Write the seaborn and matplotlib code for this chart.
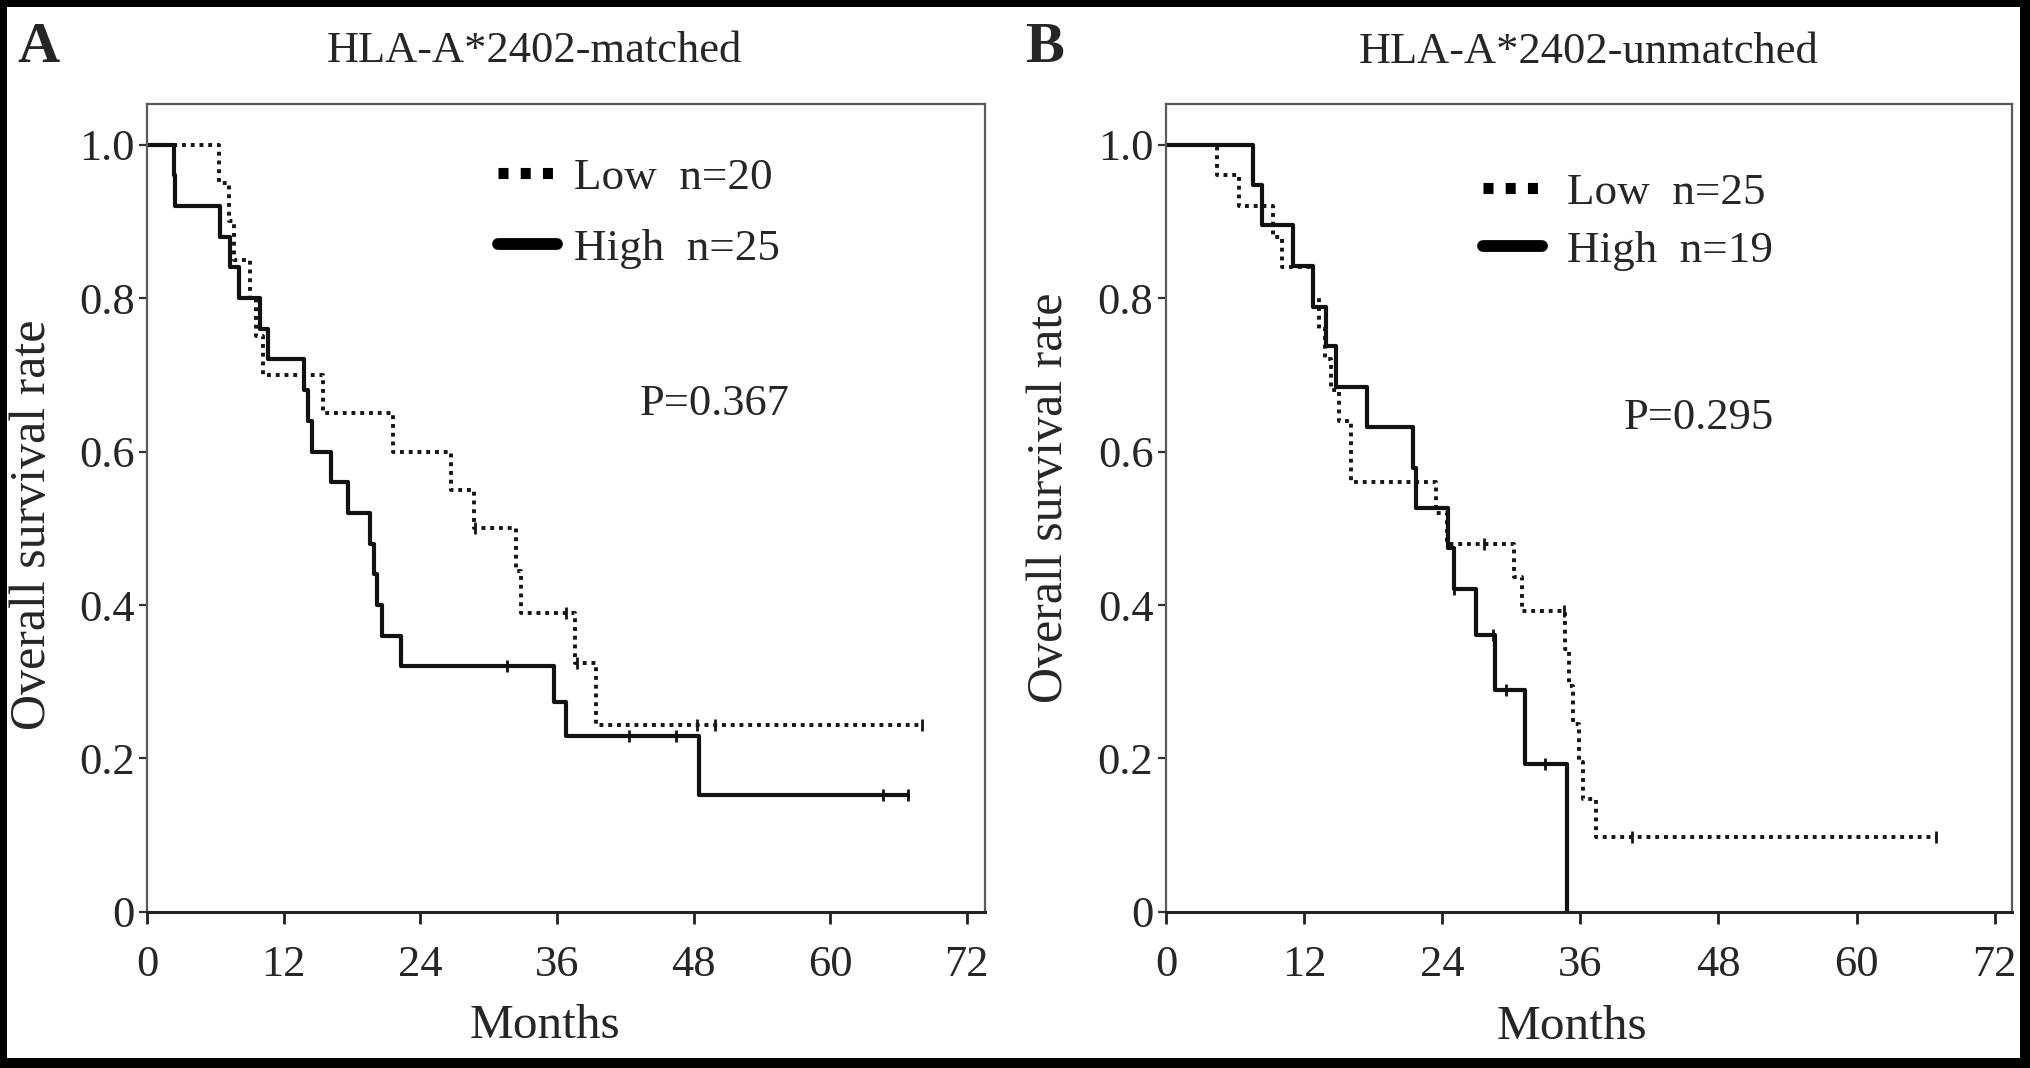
import matplotlib
matplotlib.use("Agg")
import matplotlib.pyplot as plt
from matplotlib.lines import Line2D
from matplotlib.patches import Rectangle
import seaborn as sns

sns.set_theme(style="white")
plt.rcParams["font.family"] = ["Liberation Serif", "DejaVu Serif"]

# ==================================================
# DATA
# ==================================================

# A: HLA-A*2402-matched
a_low_t = [0, 6.3, 7.2, 7.6, 9.0, 9.6, 10.2, 15.45, 21.6, 26.7, 28.7,
           32.4, 32.85, 37.55, 39.4, 68.1]
a_low_s = [1.0, 0.95, 0.90, 0.85, 0.80, 0.75, 0.70, 0.65, 0.60, 0.55, 0.50,
           0.444, 0.389, 0.324, 0.243, 0.243]
a_low_cens_t = [28.8, 36.8, 37.8, 48.3, 49.9, 68.1]
a_low_cens_s = [0.50, 0.389, 0.324, 0.243, 0.243, 0.243]

a_high_t = [0, 2.35, 2.45, 6.4, 7.25, 8.05, 9.9, 10.6, 13.75, 14.1, 14.5,
            16.2, 17.65, 19.55, 19.9, 20.2, 20.6, 22.3, 35.7, 36.8, 48.5, 66.8]
a_high_s = [1.0, 0.96, 0.92, 0.88, 0.84, 0.80, 0.76, 0.72, 0.68, 0.64, 0.60,
            0.56, 0.52, 0.48, 0.44, 0.40, 0.36, 0.32, 0.274, 0.229, 0.152, 0.152]
a_high_cens_t = [31.6, 42.3, 46.5, 64.65, 66.8]
a_high_cens_s = [0.32, 0.229, 0.229, 0.152, 0.152]

# B: HLA-A*2402-unmatched
b_low_t = [0, 4.4, 6.3, 9.3, 10.05, 12.8, 13.3, 13.8, 14.3, 15.0, 16.1,
           23.5, 24.4, 30.2, 30.9, 34.65, 35.0, 35.4, 35.85, 36.2, 37.35, 66.9]
b_low_s = [1.0, 0.96, 0.92, 0.88, 0.84, 0.80, 0.76, 0.72, 0.68, 0.64, 0.56,
           0.52, 0.48, 0.436, 0.392, 0.343, 0.294, 0.245, 0.196, 0.147, 0.098, 0.098]
b_low_cens_t = [27.65, 34.6, 40.45, 66.9]
b_low_cens_s = [0.48, 0.392, 0.098, 0.098]

b_high_t = [0, 7.55, 8.3, 11.05, 12.8, 13.9, 14.75, 17.5, 21.5, 21.7,
            24.5, 25.0, 26.9, 28.6, 31.15, 34.8]
b_high_s = [1.0, 0.947, 0.895, 0.842, 0.789, 0.737, 0.684, 0.632, 0.579, 0.526,
            0.474, 0.421, 0.361, 0.289, 0.193, 0.0]
b_high_cens_t = [25.0, 28.4, 29.5, 32.95]
b_high_cens_s = [0.421, 0.361, 0.289, 0.193]

x_ticks = [0, 12, 24, 36, 48, 60, 72]
y_ticks = [0, 0.2, 0.4, 0.6, 0.8, 1.0]
y_tick_labels = ["0", "0.2", "0.4", "0.6", "0.8", "1.0"]

panels = [
    {
        "letter": "A", "title": "HLA-A*2402-matched",
        "low": (a_low_t, a_low_s, a_low_cens_t, a_low_cens_s),
        "high": (a_high_t, a_high_s, a_high_cens_t, a_high_cens_s),
        "low_label": "Low  n=20", "high_label": "High  n=25",
        "p": "P=0.367",
    },
    {
        "letter": "B", "title": "HLA-A*2402-unmatched",
        "low": (b_low_t, b_low_s, b_low_cens_t, b_low_cens_s),
        "high": (b_high_t, b_high_s, b_high_cens_t, b_high_cens_s),
        "low_label": "Low  n=25", "high_label": "High  n=19",
        "p": "P=0.295",
    },
]

# layout per panel
axes_rects = [[0.0724, 0.1461, 0.4126, 0.7566], [0.5741, 0.1461, 0.4165, 0.7566]]
xlims = [73.6, 73.5]
p_pos = [(43.25, 0.6475), (39.8, 0.629)]
legend_anchor = [(0.419, 0.934), (0.375, 0.915)]
legend_style = [
    dict(handlelength=1.31, handletextpad=0.36, labelspacing=0.68),
    dict(handlelength=1.30, handletextpad=0.55, labelspacing=0.38),
]
title_pos = [(0.2629, 0.9424), (0.7824, 0.9410)]
letter_pos = [(0.0084, 0.9420), (0.5047, 0.9420)]
xlabel_pos = [(0.475, -0.141), (0.480, -0.142)]
ylabel_pos = [(-0.136, 0.479), (-0.137, 0.512)]

# ==================================================
# FIGURE
# ==================================================

fig = plt.figure(figsize=(20.31, 10.68), dpi=100)
fig.patch.set_facecolor("black")
fig.add_artist(Rectangle((0.00345, 0.0089), 0.9909, 0.9842,
                         transform=fig.transFigure, facecolor="white",
                         edgecolor="none", zorder=-5))

dot_style = (0, (1, 1.25))

for i, pnl in enumerate(panels):
    ax = fig.add_axes(axes_rects[i])
    ax.set_facecolor("white")

    lt, ls_, lct, lcs = pnl["low"]
    ht, hs, hct, hcs = pnl["high"]

    sns.lineplot(x=lt, y=ls_, ax=ax, drawstyle="steps-post", estimator=None,
                 errorbar=None, color="#151515", linewidth=2.8,
                 linestyle=dot_style)
    sns.lineplot(x=ht, y=hs, ax=ax, drawstyle="steps-post", estimator=None,
                 errorbar=None, color="#111111", linewidth=3.0)
    sns.scatterplot(x=lct, y=lcs, ax=ax, marker="|", s=80, color="#151515",
                    linewidth=2.0, zorder=4)
    sns.scatterplot(x=hct, y=hcs, ax=ax, marker="|", s=80, color="#111111",
                    linewidth=2.0, zorder=4)

    ax.set_xlim(0, xlims[i])
    ax.set_ylim(0, 1.053)
    ax.set_xticks(x_ticks)
    ax.set_yticks(y_ticks)
    ax.set_yticklabels(y_tick_labels)
    ax.tick_params(axis="x", bottom=True, direction="out", length=8.5,
                   width=2.0, color="#222222", labelsize=32, pad=15)
    ax.tick_params(axis="y", left=True, direction="out", length=6,
                   width=1.6, color="#333333", labelsize=32, pad=3)

    for side in ["top", "right", "left"]:
        ax.spines[side].set_color("#5a5a5a")
        ax.spines[side].set_linewidth(1.6)
    ax.spines["bottom"].set_color("#222222")
    ax.spines["bottom"].set_linewidth(2.2)

    ax.set_xlabel("Months", fontsize=35.5)
    ax.xaxis.set_label_coords(*xlabel_pos[i])
    ax.xaxis.label.set_va("center")
    ax.set_ylabel("Overall survival rate", fontsize=36)
    ax.yaxis.set_label_coords(*ylabel_pos[i])
    ax.yaxis.label.set_va("center")

    ax.text(p_pos[i][0], p_pos[i][1], pnl["p"], fontsize=32,
            ha="left", va="baseline")

    handles = [
        Line2D([], [], color="black", linewidth=8, linestyle=(0, (0.9, 1.1))),
        Line2D([], [], color="black", linewidth=8.5),
    ]
    ax.legend(handles, [pnl["low_label"], pnl["high_label"]],
              loc="upper left", bbox_to_anchor=legend_anchor[i],
              frameon=False, fontsize=32.5, borderpad=0, borderaxespad=0,
              **legend_style[i])

    fig.text(title_pos[i][0], title_pos[i][1], pnl["title"], fontsize=32,
             ha="center", va="baseline")
    fig.text(letter_pos[i][0], letter_pos[i][1], pnl["letter"], fontsize=42,
             fontweight="bold", ha="left", va="baseline")

fig.savefig("out.png", dpi=100, facecolor=fig.get_facecolor())
